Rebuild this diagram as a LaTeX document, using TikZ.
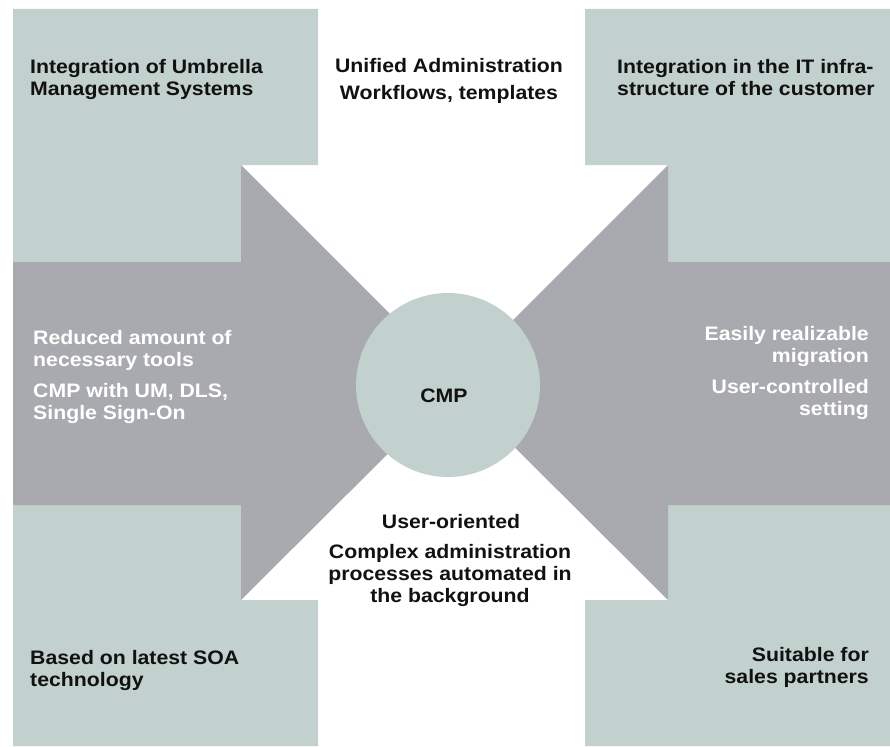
\documentclass[tikz,border=0pt]{standalone}
\usepackage{fontspec}
\setmainfont{Liberation Sans}[FakeStretch=1.09]
\definecolor{sage}{HTML}{C2D1CD}
\definecolor{arrowgray}{HTML}{A9AAAF}
\definecolor{ink}{HTML}{111111}
\begin{document}
\begin{tikzpicture}[x=1pt,y=-1pt,
  lbl/.style={inner sep=0pt, font=\fontsize{19.5}{21.8}\selectfont\bfseries, text=ink},
  wlbl/.style={lbl, text=white},
  sagefill/.style={fill=sage},
  grayfill/.style={fill=arrowgray}]
\useasboundingbox (0,0) rectangle (890,746);
% corner panels
\fill[sagefill] (13,9) -- (318,9) -- (318,165) -- (241,165) -- (241,262) -- (13,262) -- cycle;
\fill[sagefill] (585,9) -- (890,9) -- (890,262) -- (668,262) -- (668,165) -- (585,165) -- cycle;
\fill[sagefill] (13,505) -- (241,505) -- (241,600) -- (318,600) -- (318,746) -- (13,746) -- cycle;
\fill[sagefill] (668,505) -- (890,505) -- (890,746) -- (585,746) -- (585,600) -- (668,600) -- cycle;
% arrows
\fill[grayfill] (13,262) -- (241,262) -- (241,165) -- (459,383) -- (241,600) -- (241,505) -- (13,505) -- cycle;
\fill[grayfill] (890,262) -- (668,262) -- (668,165) -- (450,383) -- (668,600) -- (668,505) -- (890,505) -- cycle;
% centre
\node[circle, sagefill, minimum size=184pt, inner sep=0pt] (hub) at (448,385) {};
\node[lbl, anchor=base] (cmp) at (444,402) {CMP};
% texts (base anchor of a multi-line node = baseline of its last line)
\node[lbl, anchor=base west, align=left] (tl) at (30,95.5) {Integration of Umbrella\\Management Systems};
\node[lbl, anchor=base] (tc1) at (449,73) {Unified Administration};
\node[lbl, anchor=base] (tc2) at (449,100) {Workflows, templates};
\node[lbl, anchor=base west, align=left] (tr) at (617,95.5) {Integration in the IT infra-\\structure of the customer};
\node[wlbl, anchor=base west, align=left] (l1) at (33,366) {Reduced amount of\\necessary tools};
\node[wlbl, anchor=base west, align=left] (l2) at (33,419) {CMP with UM, DLS,\\Single Sign-On};
\node[wlbl, anchor=base east, align=right] (r1) at (869,362) {Easily realizable\\migration};
\node[wlbl, anchor=base east, align=right] (r2) at (869,415) {User-controlled\\setting};
\node[lbl, anchor=base] (b1) at (451,528) {User-oriented};
\node[lbl, anchor=base, align=center] (b2) at (450,602.5) {Complex administration\\processes automated in\\the background};
\node[lbl, anchor=base west, align=left] (bl) at (30,686) {Based on latest SOA\\technology};
\node[lbl, anchor=base east, align=right] (br) at (869,683) {Suitable for\\sales partners};
\end{tikzpicture}
\end{document}
